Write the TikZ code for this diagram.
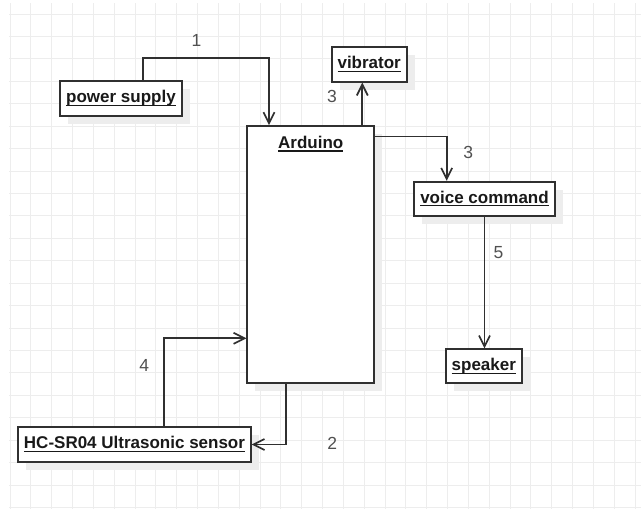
\documentclass[tikz,border=0pt]{standalone}
\usepackage{fontspec}
\setmainfont{Liberation Sans}
\usetikzlibrary{arrows.meta,shadows}
\definecolor{gridc}{HTML}{EDEDED}
\definecolor{linec}{HTML}{303030}
\definecolor{numc}{HTML}{505050}
\newsavebox\ulxbox
\newcommand\ulx[1]{\sbox\ulxbox{#1}\rlap{\rule[-3.4pt]{\wd\ulxbox}{1.3pt}}\usebox\ulxbox}
\tikzset{
  gridline/.style={draw=gridc, line width=0.8pt},
  box/.style={draw=linec, line width=1.8pt, fill=white, inner sep=0pt,
    font=\fontsize{17}{19}\selectfont\bfseries, text=black!90,
    text height=12.3pt, text depth=3.6pt,
    drop shadow={shadow xshift=8pt, shadow yshift=-8pt, fill=black!7, opacity=1}},
  boxtext/.style={inner sep=0pt, font=\fontsize{17}{19}\selectfont\bfseries, text=black!90},
  conn/.style={draw=linec, line width=1.7pt, -{Straight Barb[length=11pt,width=11pt,line width=1.7pt]}},
  num/.style={inner sep=0pt, font=\fontsize{17.5}{20}\selectfont, text=numc}
}
\begin{document}
\begin{tikzpicture}[x=1pt,y=-1pt]
\useasboundingbox (0,0) rectangle (641,509);
\fill[white] (0,0) rectangle (641,509);
% grid
\foreach \k in {0,...,30} {\draw[gridline] ({10+20.83*\k},3) -- ({10+20.83*\k},509);}
\foreach \k in {0,...,22} {\draw[gridline] (9,{14+22.43*\k}) -- (641,{14+22.43*\k});}
% boxes
\node[box, minimum width=122pt, minimum height=35pt] (power) at (121,98.5) {\ulx{power supply}};
\node[box, minimum width=75pt, minimum height=34.4pt] (vib) at (369.2,64.5) {\ulx{vibrator}};
\node[box, minimum width=126.7pt, minimum height=257.3pt] (ard) at (310.7,254.65) {};
\node[boxtext, anchor=base] (ardlbl) at (310.7,148.3) {\ulx{Arduino}};
\node[box, minimum width=141pt, minimum height=34pt] (voice) at (484.5,198.7) {\ulx{voice command}};
\node[box, minimum width=75.7pt, minimum height=34pt] (speaker) at (483.8,366.3) {\ulx{speaker}};
\node[box, minimum width=232.4pt, minimum height=34.4pt] (hc) at (134.5,444.5) {\ulx{HC-SR04 Ultrasonic sensor}};
% connectors
\draw[conn] ([xshift=21.7pt]power.north) -- ++(0,-22) -| ([xshift=-41.7pt]ard.north);
\draw[conn] ([xshift=51.6pt]ard.north) -- ([xshift=-6.9pt]vib.south);
\draw[conn] ([yshift=-11.3pt]ard.north east) -| ([xshift=-37.8pt]voice.north);
\draw[conn] (voice.south) -- (voice.south |- speaker.north);
\draw[conn] ([xshift=-25pt]ard.south) |- (hc.east);
\draw[conn] ([xshift=29.8pt]hc.north) |- ([yshift=-83.65pt]ard.west);
% labels
\node[num] (n1) at (196.5,40) {1};
\node[num] (n3a) at (332,96.7) {3};
\node[num] (n3b) at (468.3,152.7) {3};
\node[num] (n5) at (498.5,253) {5};
\node[num] (n4) at (144.3,365.3) {4};
\node[num] (n2) at (332.3,443.7) {2};
\end{tikzpicture}
\end{document}
